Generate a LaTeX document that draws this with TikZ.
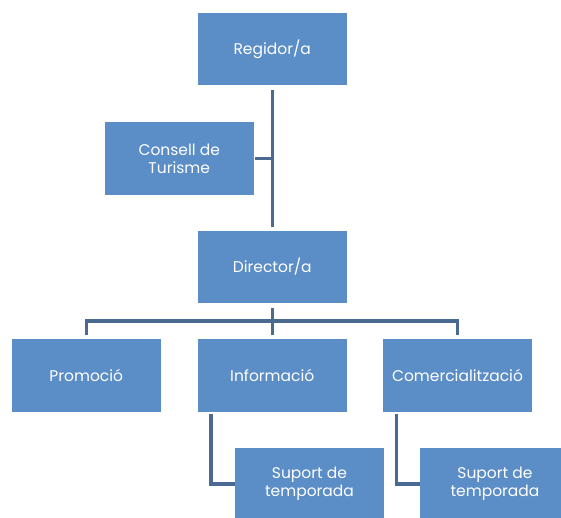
\documentclass[tikz,border=0pt]{standalone}
\usepackage{fontspec}
\setmainfont{Poppins}
\definecolor{boxblue}{RGB}{91,141,198}
\definecolor{lineblue}{RGB}{74,106,145}
\begin{document}
\begin{tikzpicture}[x=1pt,y=1pt,
  box/.style={rectangle, fill=boxblue, draw=none, text=white, minimum width=149.5pt, minimum height=72.5pt, align=center, inner sep=0pt, font=\fontsize{15.5}{18}\selectfont},
  conn/.style={draw=lineblue, line width=3.5pt}]
\useasboundingbox (0,0) rectangle (561,-517);
\clip (0,0) rectangle (561,-517);
\fill[white] (0,0) rectangle (561,-517);
\node[box] (reg) at (272.25,-49) {Regidor/a};
\node[box] (cons) at (179.25,-158.5) {Consell de\\Turisme};
\node[box] (dir) at (272.25,-267) {Director/a};
\node[box] (prom) at (86.25,-375.5) {Promoció};
\node[box] (info) at (272.25,-375.5) {Informació};
\node[box] (com) at (457.5,-375.5) {Comercialització};
\node[box] (sup1) at (309.5,-484) {Suport de\\temporada};
\node[box] (sup2) at (495,-484) {Suport de\\temporada};
\coordinate (bar) at (272.25,-321);
\draw[conn] ([yshift=-5pt]reg.south) -- ([yshift=4pt]dir.north);
\draw[conn] ([xshift=1pt]cons.east) -- (cons.east -| reg.south);
\draw[conn] ([yshift=-5pt]dir.south) -- (bar);
\draw[conn] ([yshift=4pt]prom.north) |- (bar) -| ([yshift=4pt]com.north);
\draw[conn] (bar) -- ([yshift=4pt]info.north);
\draw[conn] ([xshift=13.5pt,yshift=-2pt]info.south west) |- (sup1.west);
\draw[conn] ([xshift=14pt,yshift=-2pt]com.south west) |- (sup2.west);
\end{tikzpicture}
\end{document}
